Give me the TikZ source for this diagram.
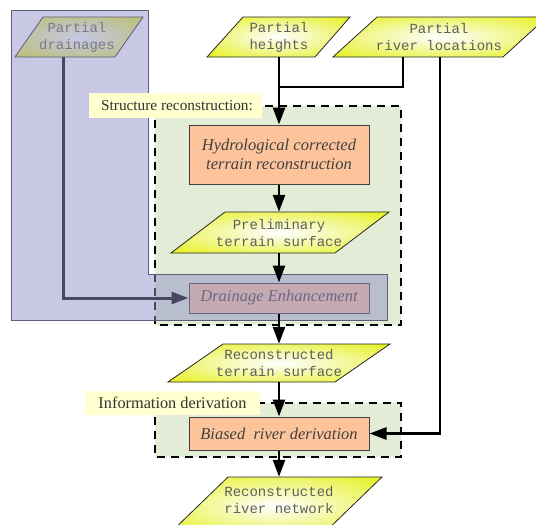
\documentclass[tikz,border=0pt]{standalone}
\usepackage{fontspec}
\setmainfont{Liberation Serif}
\newfontfamily\paramono{Liberation Mono}
\usetikzlibrary{arrows.meta}
\definecolor{grfill}{RGB}{226,236,214}
\definecolor{lblfill}{RGB}{255,255,208}
\definecolor{orfill}{RGB}{253,196,156}
\definecolor{yel}{RGB}{228,240,10}
\definecolor{yelpale}{RGB}{250,252,225}
\definecolor{purp}{RGB}{145,145,201}
\definecolor{purpline}{RGB}{95,95,120}
\definecolor{partext}{RGB}{95,95,95}
\pgfdeclareradialshading{parashade}{\pgfpoint{0bp}{0bp}}{color(0bp)=(white); color(5bp)=(yelpale); color(38bp)=(yel); color(50bp)=(yel)}
\begin{document}
\begin{tikzpicture}[x=1pt,y=-1pt,
  conn/.style={line width=2.6pt, -{Triangle[length=17pt,width=12pt]}},
  plain/.style={line width=2.6pt},
  grp/.style={fill=grfill, draw=black, line width=1.2pt, dash pattern=on 8pt off 6pt},
  lbl/.style={fill=lblfill, inner sep=0pt, text=black!80},
  procbox/.style={draw=black!75, line width=1pt, fill=orfill, inner sep=0pt, font=\fontsize{16.5}{18.5}\selectfont\itshape, text=black!75, align=center},
  partxt/.style={inner sep=0pt, font=\paramono\fontsize{14}{17}\selectfont, text=partext, align=center},
  para/.style={draw=black!85, line width=0.8pt, shading=parashade},
]
\useasboundingbox (0,0) rectangle (536,525);
% groups
\path[grp] (155,106) rectangle (401,325);
\path[grp] (155,403) rectangle (401,457);
\node[lbl, minimum width=175pt, minimum height=24pt, font=\fontsize{16.3}{18}\selectfont] (lid) at (172.5,403) {Information derivation};
% process boxes
\node[procbox, minimum width=180pt, minimum height=59pt] (hr) at (279,154.5) {Hydrological corrected\\terrain reconstruction};
\node[procbox, minimum width=180pt, minimum height=30pt] (de) at (279,298) {Drainage Enhancement};
\node[procbox, minimum width=180pt, minimum height=33pt] (br) at (279,433.5) {Biased\ \ river derivation};
% data parallelograms
\path[para] (43,17) -- (143,17) -- (115,57) -- (15,57) -- cycle;
\node[partxt, minimum height=40pt] (pd) at (77,37) {Partial\\drainages};
\path[para] (243,17) -- (350,17) -- (315,57) -- (207,57) -- cycle;
\node[partxt, minimum height=40pt] (ph) at (279,37) {Partial\\heights};
\path[para] (377,17) -- (547,17) -- (503,57) -- (333,57) -- cycle;
\node[partxt, minimum height=40pt] (prl) at (439,37) {Partial\\river locations};
\path[para] (225,212) -- (389,212) -- (335,253) -- (171,253) -- cycle;
\node[partxt, minimum height=41pt] (pts) at (279,232.5) {Preliminary\\terrain surface};
\path[para] (223,344) -- (390,344) -- (335,382) -- (168,382) -- cycle;
\node[partxt, minimum height=38pt] (rts) at (279,363) {Reconstructed\\terrain surface};
\path[para] (228,477) -- (382,477) -- (322,535) -- (168,535) -- cycle;
\node[partxt, minimum height=46pt] (rrn) at (279,500) {Reconstructed\\river network};
% connector under the overlay
\coordinate (pdout) at (63,57);
\draw[conn, line width=3pt] (pdout) |- (de.west);
% purple overlay
\path[fill=purp, fill opacity=0.5, draw=purpline, line width=1pt] (11,10) -- (148,10) -- (148,274) -- (387,274) -- (387,320) -- (11,320) -- cycle;
% label above overlay
\path[fill=lblfill] (89,93) rectangle (262,118);
\node[lbl, fill=none, inner sep=0pt, font=\fontsize{15.3}{17}\selectfont] (lsr) at (177,105.5) {Structure reconstruction:};
% connectors
\coordinate (r1) at (403,57);
\coordinate (r2) at (440,57);
\coordinate (jn) at (279,87);
\draw[plain] (r1) |- (jn);
\draw[conn] (ph.south) -- (hr.north);
\draw[conn] (r2) |- (br.east);
\draw[conn] (hr.south) -- (pts.north);
\draw[conn] (pts.south) -- (de.north);
\draw[conn] (de.south) -- (rts.north);
\draw[conn] (rts.south) -- (br.north);
\draw[conn] (br.south) -- (rrn.north);
\end{tikzpicture}
\end{document}
